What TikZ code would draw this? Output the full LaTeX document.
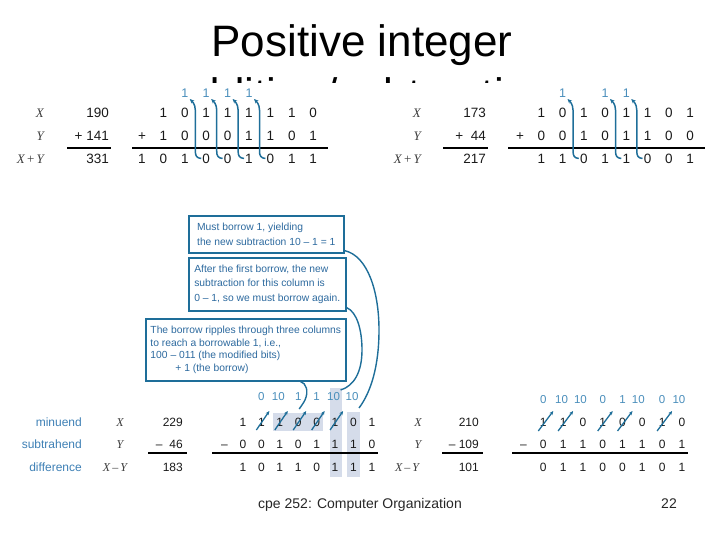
\documentclass[tikz,border=0pt]{standalone}
\usepackage{fontspec}
\setmainfont{Liberation Sans}
\newfontfamily\serif{Liberation Serif}
\usetikzlibrary{arrows.meta,calc}
\definecolor{arr}{HTML}{1E6E99}
\definecolor{cry}{HTML}{4A8EBB}
\definecolor{btxt}{HTML}{2D6A9F}
\definecolor{lblue}{HTML}{3E80B5}
\definecolor{shadecol}{HTML}{D5DCEA}
\definecolor{ink}{HTML}{1A1A1A}
\begin{document}
\begin{tikzpicture}[x=1pt,y=-1pt,
  ttl/.style={font=\fontsize{44}{52}\selectfont, text=black, inner sep=0pt},
  dgt/.style={font=\fontsize{13.5}{16}\selectfont, text=ink, inner sep=0pt, text height=9.7pt, text depth=0pt},
  dgs/.style={font=\fontsize{12}{14}\selectfont, text=ink, inner sep=0pt, text height=8.6pt, text depth=0pt},
  cryt/.style={font=\fontsize{12.5}{14}\selectfont, text=cry, inner sep=0pt, text height=9pt, text depth=0pt},
  crys/.style={font=\fontsize{11.5}{14}\selectfont, text=cry, inner sep=0pt, text height=8.2pt, text depth=0pt},
  lbl/.style={font=\fontsize{13}{15}\selectfont\serif\itshape, text=ink!85, inner sep=0pt, text height=8.7pt, text depth=0pt},
  lbs/.style={font=\fontsize{12}{14}\selectfont\serif\itshape, text=ink!85, inner sep=0pt, text height=8pt, text depth=0pt},
  wlbl/.style={font=\fontsize{12}{14}\selectfont, text=lblue, inner sep=0pt, text height=8.6pt, text depth=0pt},
  sumline/.style={draw=black, line width=1.8pt},
  sumlines/.style={draw=black, line width=1.6pt},
  carrow/.style={draw=arr, line width=1.5pt, -{Stealth[length=4.5pt,width=4pt]}},
  slarr/.style={draw=arr, line width=1.3pt, -{Stealth[length=4pt,width=3.5pt]}},
  cbox/.style={draw=arr, line width=1.6pt, fill=white, font=\fontsize{10.3}{14.5}\selectfont, text=btxt, align=left, inner sep=0pt},
  bigline/.style={draw=arr, line width=1.4pt},
  foot/.style={font=\fontsize{14}{16}\selectfont, text=black!85, inner sep=0pt}
]
\useasboundingbox (0,0) rectangle (720,540);

% ---------- title ----------
\node[ttl, anchor=base] (t1) at (362,57) {Positive integer};
\begin{scope}
  \clip (0,0) rectangle (720,83);
  \node[ttl, anchor=base] (t2) at (362,110) {addition/subtraction};
\end{scope}

% ---------- top-left addition ----------
\node[lbl, anchor=east] (tll1) at (44,113) {X};
\node[lbl, anchor=east] (tll2) at (44,136) {Y};
\node[lbl, anchor=east] (tll3) at (44,159) {X\,{\upshape+}\,Y};
\node[dgt, anchor=east] (tln1) at (109,113) {190};
\node[dgt, anchor=east] (tln2) at (109,136) {+ 141};
\node[dgt, anchor=east] (tln3) at (109,159) {331};
\draw[sumline] (67,148) -- (111,148);
\draw[sumline] (132,148) -- (328,148);
\foreach \b [count=\i] in {1,0,1,1,1,1,1,0} \node[dgt] (tlx\i) at ({142+21.4*\i},113) {\b};
\node[dgt] (tlyp) at (142,136) {+};
\foreach \b [count=\i] in {1,0,0,0,1,1,0,1} \node[dgt] (tly\i) at ({142+21.4*\i},136) {\b};
\foreach \b [count=\i from 0] in {1,0,1,0,0,1,0,1,1} \node[dgt] (tls\i) at ({142+21.4*\i},159) {\b};
\foreach \i in {2,3,4,5} {
  \pgfmathtruncatemacro{\j}{\i+1}
  \node[cryt] (tlc\i) at ({142+21.4*\i},93) {1};
  \draw[carrow] ($(tls\j)+(-5,-0.5)$) .. controls ($(tls\j)+(-9.5,-1)$) and ($(tls\j)+(-10.9,-3)$) .. ($(tls\j)+(-10.9,-8)$)
     -- ($(tlc\i)+(10.5,17)$) .. controls ($(tlc\i)+(10.5,11)$) and ($(tlc\i)+(7,8)$) .. ($(tlc\i)+(5,6)$);
}

% ---------- top-right addition ----------
\node[lbl, anchor=east] (trl1) at (421,113) {X};
\node[lbl, anchor=east] (trl2) at (421,136) {Y};
\node[lbl, anchor=east] (trl3) at (421,159) {X\,{\upshape+}\,Y};
\node[dgt, anchor=east] (trn1) at (486,113) {173};
\node[dgt, anchor=east] (trn2) at (486,136) {+\ \ 44};
\node[dgt, anchor=east] (trn3) at (486,159) {217};
\draw[sumline] (443,148) -- (488,148);
\draw[sumline] (508,148) -- (705,148);
\foreach \b [count=\i] in {1,0,1,0,1,1,0,1} \node[dgt] (trx\i) at ({520+21.25*\i},113) {\b};
\node[dgt] (tryp) at (520,136) {+};
\foreach \b [count=\i] in {0,0,1,0,1,1,0,0} \node[dgt] (try\i) at ({520+21.25*\i},136) {\b};
\foreach \b [count=\i] in {1,1,0,1,1,0,0,1} \node[dgt] (trs\i) at ({520+21.25*\i},159) {\b};
\foreach \i in {2,4,5} {
  \pgfmathtruncatemacro{\j}{\i+1}
  \node[cryt] (trc\i) at ({520+21.25*\i},93) {1};
  \draw[carrow] ($(trs\j)+(-5,-0.5)$) .. controls ($(trs\j)+(-9.5,-1)$) and ($(trs\j)+(-10.7,-3)$) .. ($(trs\j)+(-10.7,-8)$)
     -- ($(trc\i)+(10.5,17)$) .. controls ($(trc\i)+(10.5,11)$) and ($(trc\i)+(7,8)$) .. ($(trc\i)+(5,6)$);
}

% ---------- bottom-left subtraction ----------
\fill[shadecol] (273,413) rectangle (323,431);
\fill[shadecol] (329.5,388) rectangle (341.5,477);
\fill[shadecol] (347,412) rectangle (360,477);

\node[wlbl, anchor=east] (mnd) at (82,422) {minuend};
\node[wlbl, anchor=east] (sbt) at (82,444) {subtrahend};
\node[wlbl, anchor=east] (dif) at (82,467) {difference};
\node[lbs] (bll1) at (120,422) {X};
\node[lbs] (bll2) at (120,444) {Y};
\node[lbs] (bll3) at (115,467) {X\,{\upshape–}\,Y};
\node[dgs, anchor=east] (bln1) at (183,422) {229};
\node[dgs, anchor=east] (bln2) at (183,444) {–\hspace{7pt}46};
\node[dgs, anchor=east] (bln3) at (183,467) {183};
\draw[sumlines] (148,453) -- (187,453);
\draw[sumlines] (212,453) -- (378,453);
\foreach \b [count=\i] in {1,1,1,0,0,1,0,1} \node[dgs] (blm\i) at ({224.5+18.43*\i},422) {\b};
\node[dgs] (blsm) at (224.5,444) {–};
\foreach \b [count=\i] in {0,0,1,0,1,1,1,0} \node[dgs] (bls\i) at ({224.5+18.43*\i},444) {\b};
\foreach \b [count=\i] in {1,0,1,1,0,1,1,1} \node[dgs] (bld\i) at ({224.5+18.43*\i},467) {\b};
\node[crys] (bla2) at ({224.5+18.43*2},396) {0};
\node[crys] (bla3) at ({224.5+18.43*3-1.5},396) {10};
\node[crys] (bla4) at ({224.5+18.43*4},396) {1};
\node[crys] (bla5) at ({224.5+18.43*5},396) {1};
\node[crys] (bla6) at ({224.5+18.43*6-1.5},396) {10};
\node[crys] (bla7) at ({224.5+18.43*7-1.5},396) {10};
\foreach \i in {2,...,6} \draw[slarr] ($(blm\i)+(-5,8)$) -- ($(blm\i)+(8,-11)$);

% ---------- callout boxes ----------
\node[cbox, anchor=north west, minimum width=155pt, minimum height=37pt] (b1) at (188,215)
  {Must borrow 1, yielding\\the new subtraction 10 – 1 = 1};
\node[cbox, anchor=north west, minimum width=157pt, minimum height=53pt] (b2) at (188,257)
  {After the first borrow, the new\\subtraction for this column is\\0 – 1, so we must borrow again.};
\node[cbox, anchor=north west, minimum width=200pt, minimum height=62pt, font=\fontsize{10.3}{12.6}\selectfont] (b3) at (145,318)
  {The borrow ripples through three columns\\to reach a borrowable 1, i.e.,\\100 – 011 (the modified bits)\\\hspace*{25pt}+ 1 (the borrow)};
\draw[bigline] ($(b1.south east)+(0,-3)$) .. controls (368,256) and (379,292) .. (379,330)
   .. controls (379,366) and (371,392) .. ($(bla7)+(7,12)$);
\draw[bigline] ($(b2.south east)+(0,-4)$) .. controls (357,312) and (362,330) .. (362,350)
   .. controls (362,372) and (354,386) .. ($(bla6)+(7,-6)$);
\draw[bigline] ($(b3.south east)+(-46,0)$) .. controls (306,383) and (309,391) .. (305,400)
   .. controls (303,404) and (301,406) .. ($(bla4)+(1,13)$);

% ---------- bottom-right subtraction ----------
\node[lbs] (brl1) at (418,422) {X};
\node[lbs] (brl2) at (418,444) {Y};
\node[lbs] (brl3) at (407,467) {X\,{\upshape–}\,Y};
\node[dgs, anchor=east] (brn1) at (479,422) {210};
\node[dgs, anchor=east] (brn2) at (479,444) {– 109};
\node[dgs, anchor=east] (brn3) at (479,467) {101};
\draw[sumlines] (442,453) -- (483,453);
\draw[sumlines] (512,453) -- (688,453);
\foreach \b [count=\i] in {1,1,0,1,0,0,1,0} \node[dgs] (brm\i) at ({523.5+19.8*\i},422) {\b};
\node[dgs] (brsm) at (523.5,444) {–};
\foreach \b [count=\i] in {0,1,1,0,1,1,0,1} \node[dgs] (brs\i) at ({523.5+19.8*\i},444) {\b};
\foreach \b [count=\i] in {0,1,1,0,0,1,0,1} \node[dgs] (brd\i) at ({523.5+19.8*\i},467) {\b};
\node[crys] (bra1) at ({523.5+19.8*1},399) {0};
\node[crys] (bra2) at ({523.5+19.8*2-1.5},399) {10};
\node[crys] (bra3) at ({523.5+19.8*3-2.5},399) {10};
\node[crys] (bra4) at ({523.5+19.8*4},399) {0};
\node[crys] (bra5) at ({523.5+19.8*5},399) {1};
\node[crys] (bra6) at ({523.5+19.8*6-4},399) {10};
\node[crys] (bra7) at ({523.5+19.8*7},399) {0};
\node[crys] (bra8) at ({523.5+19.8*8-3},399) {10};
\foreach \i in {1,2,4,5,7} \draw[slarr] ($(brm\i)+(-5,9)$) -- ($(brm\i)+(10,-11)$);

% ---------- footer ----------
\node[foot, anchor=base west] (ft) at (258,508) {cpe 252: Computer Organization};
\node[foot, anchor=base east] (pg) at (677,508) {22};
\end{tikzpicture}
\end{document}
